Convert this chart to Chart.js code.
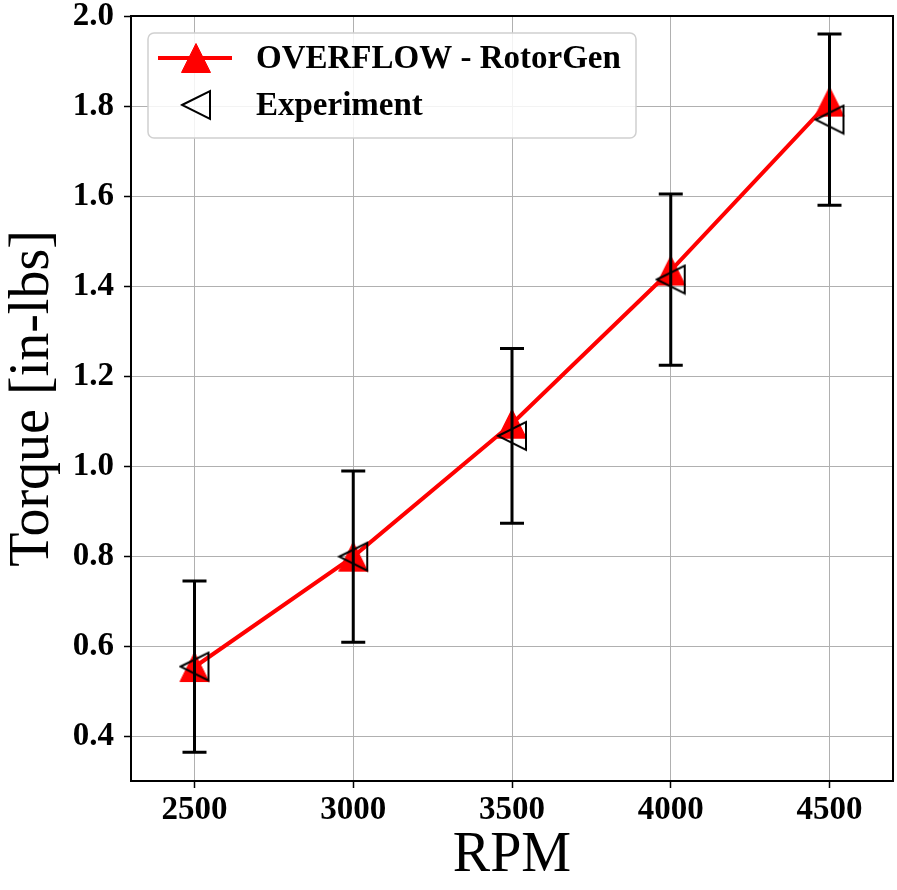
<!DOCTYPE html>
<html>
<head>
<meta charset="utf-8">
<script src="https://cdn.jsdelivr.net/npm/chart.js@4.4.1/dist/chart.umd.min.js"></script>
<style>
  html, body { margin: 0; padding: 0; background: #fff; }
  #wrap { width: 897px; height: 890px; }
</style>
</head>
<body>
<div id="wrap"><canvas id="torqueChart" width="897" height="890"></canvas></div>
<script>
// valores
var rpm = [2500, 3000, 3500, 4000, 4500];
var overflowTorque = [0.555, 0.80, 1.095, 1.435, 1.81];
var expTorque = [0.556, 0.80, 1.068, 1.415, 1.77];
var expErr = [0.19, 0.19, 0.194, 0.19, 0.19];
var xTicks = [2500, 3000, 3500, 4000, 4500];
var yTicks = [0.4, 0.6, 0.8, 1.0, 1.2, 1.4, 1.6, 1.8, 2.0];

var serif = "'Liberation Serif', 'Times New Roman', serif";

function pts(ys) {
  return rpm.map(function(x, i) { return { x: x, y: ys[i] }; });
}

// marcadores estilo matplotlib (triangulo centrado na caixa)
function makeMarker(dir, fill, stroke, s, lw) {
  var c = document.createElement('canvas');
  var size = Math.ceil(2 * s + lw + 2);
  c.width = size; c.height = size;
  var g = c.getContext('2d');
  var m = size / 2;
  g.beginPath();
  if (dir === 'up') {
    g.moveTo(m, m - s); g.lineTo(m - s, m + s); g.lineTo(m + s, m + s);
  } else {
    g.moveTo(m - s, m); g.lineTo(m + s, m - s); g.lineTo(m + s, m + s);
  }
  g.closePath();
  if (fill) { g.fillStyle = fill; g.fill(); }
  if (stroke) { g.strokeStyle = stroke; g.lineWidth = lw; g.stroke(); }
  return c;
}
var redUp = makeMarker('up', '#ff0000', '#ff0000', 14.5, 1);
var blackLeft = makeMarker('left', null, '#000', 14, 2);

// barras de erro + moldura + legenda
var extras = {
  id: 'extras',
  afterDatasetDraw: function(chart, args) {
    if (args.index !== 1) return;
    var ctx = chart.ctx, xs = chart.scales.x, ys = chart.scales.y;
    ctx.save();
    ctx.strokeStyle = '#000';
    ctx.lineWidth = 3;
    rpm.forEach(function(r, i) {
      var px = xs.getPixelForValue(r);
      var lo = ys.getPixelForValue(expTorque[i] - expErr[i]);
      var hi = ys.getPixelForValue(expTorque[i] + expErr[i]);
      ctx.beginPath();
      ctx.moveTo(px, lo); ctx.lineTo(px, hi);
      ctx.moveTo(px - 12, lo); ctx.lineTo(px + 12, lo);
      ctx.moveTo(px - 12, hi); ctx.lineTo(px + 12, hi);
      ctx.stroke();
    });
    ctx.restore();
  },
  afterDraw: function(chart) {
    var ctx = chart.ctx, a = chart.chartArea;
    ctx.save();
    ctx.strokeStyle = '#000';
    ctx.lineWidth = 2;
    ctx.strokeRect(a.left, a.top, a.right - a.left, a.bottom - a.top);

    // legenda
    var lx = a.left + 17, ly = a.top + 17, lw = 488, lh = 105;
    ctx.beginPath();
    ctx.roundRect(lx, ly, lw, lh, 6);
    ctx.fillStyle = 'rgba(255,255,255,0.85)';
    ctx.fill();
    ctx.strokeStyle = '#d0d0d0';
    ctx.lineWidth = 1.5;
    ctx.stroke();

    var cx = lx + 48;
    var y1 = ly + 25, y2 = ly + 72;
    ctx.strokeStyle = '#ff0000';
    ctx.lineWidth = 4;
    ctx.beginPath();
    ctx.moveTo(lx + 10, y1); ctx.lineTo(lx + 84, y1);
    ctx.stroke();
    ctx.drawImage(redUp, cx - redUp.width / 2, y1 - redUp.height / 2);
    ctx.drawImage(blackLeft, cx - blackLeft.width / 2, y2 - blackLeft.height / 2);

    ctx.fillStyle = '#000';
    ctx.font = 'bold 33px ' + serif;
    ctx.textBaseline = 'middle';
    ctx.fillText('OVERFLOW - RotorGen', lx + 108, y1 + 1);
    ctx.fillText('Experiment', lx + 108, y2 + 1);
    ctx.restore();
  }
};

var ctx = document.getElementById('torqueChart').getContext('2d');
var torqueChart = new Chart(ctx, {
  type: 'scatter',
  data: {
    datasets: [{
      label: 'Experiment',
      data: pts(expTorque),
      showLine: false,
      pointStyle: blackLeft,
      pointRadius: 14,
      pointHoverRadius: 14
    }, {
      label: 'OVERFLOW - RotorGen',
      data: pts(overflowTorque),
      showLine: true,
      borderColor: '#ff0000',
      borderWidth: 4,
      tension: 0,
      pointStyle: redUp,
      pointRadius: 14,
      pointHoverRadius: 14
    }]
  },
  options: {
    responsive: false,
    animation: false,
    events: [],
    layout: { autoPadding: false, padding: { top: 16, right: 4, left: 0, bottom: 0 } },
    plugins: {
      legend: { display: false },
      tooltip: { enabled: false }
    },
    scales: {
      x: {
        type: 'linear',
        min: 2300,
        max: 4700,
        afterBuildTicks: function(axis) {
          axis.ticks = xTicks.map(function(v) { return { value: v }; });
        },
        afterFit: function(axis) {
          axis.height = 109;
          axis.paddingLeft = 0;
          axis.paddingRight = 0;
        },
        grid: { color: '#b0b0b0', lineWidth: 1, tickColor: '#000', tickLength: 7, tickWidth: 1.5 },
        border: { color: '#000', width: 2 },
        ticks: {
          color: '#000',
          padding: 3,
          maxRotation: 0,
          font: { family: serif, size: 33, weight: 'bold' },
          callback: function(v) { return String(v); }
        },
        title: {
          display: true,
          text: 'RPM',
          color: '#000',
          padding: { top: 0, bottom: 0 },
          font: { family: serif, size: 56 }
        }
      },
      y: {
        type: 'linear',
        min: 0.302,
        max: 2.0,
        afterBuildTicks: function(axis) {
          axis.ticks = yTicks.map(function(v) { return { value: v }; });
        },
        afterFit: function(axis) {
          axis.width = 131;
          axis.paddingTop = 0;
          axis.paddingBottom = 0;
        },
        grid: { color: '#b0b0b0', lineWidth: 1, tickColor: '#000', tickLength: 7, tickWidth: 1.5 },
        border: { color: '#000', width: 2 },
        ticks: {
          color: '#000',
          padding: 10,
          font: { family: serif, size: 33, weight: 'bold' },
          callback: function(v) { return v.toFixed(1); }
        },
        title: {
          display: true,
          text: 'Torque [in-lbs]',
          color: '#000',
          padding: { top: 0, bottom: 0 },
          font: { family: serif, size: 56 }
        }
      }
    }
  },
  plugins: [extras]
});
</script>
</body>
</html>
